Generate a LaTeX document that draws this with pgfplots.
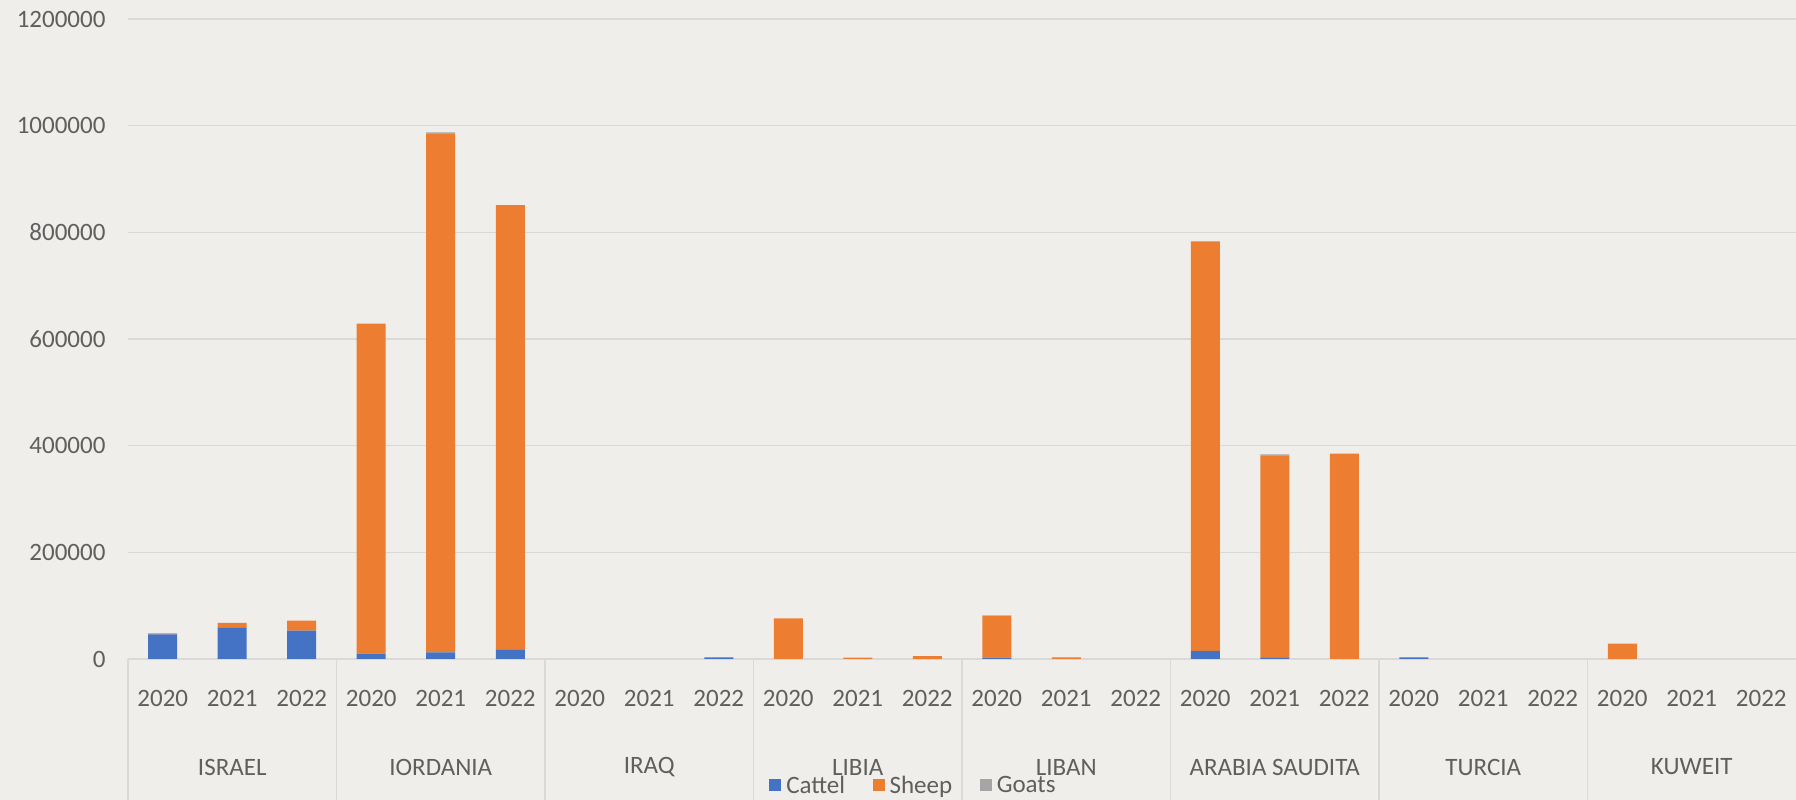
\documentclass[border=0pt]{standalone}
\usepackage{fontspec}
\setmainfont{Carlito}
\usepackage{pgfplots}
\usepackage{pgfplotstable}
\pgfplotsset{compat=1.18}
\definecolor{bgc}{RGB}{239,238,234}
\definecolor{gridc}{RGB}{217,217,217}
\definecolor{txt}{RGB}{95,95,95}
\definecolor{cattle}{RGB}{68,114,196}
\definecolor{sheep}{RGB}{237,125,49}
\definecolor{goats}{RGB}{165,165,165}

\pgfplotstableread{
x cattle sheep goats
0 46000 2000 0
1 58500 9000 0
2 53000 19000 0
3 10000 619000 0
4 12500 973000 2000
5 17000 834000 0
6 0 0 0
7 0 0 0
8 3000 0 0
9 0 76000 0
10 0 2500 0
11 0 5500 0
12 2500 78000 1500
13 0 3000 0
14 0 0 0
15 15000 768000 0
16 3000 379000 1500
17 0 385000 0
18 3000 0 0
19 0 0 0
20 0 0 0
21 0 29000 0
22 0 0 0
23 0 0 0
}\data

\begin{document}
\begin{tikzpicture}
\useasboundingbox (0,0) rectangle (718.4pt,320pt);
\fill[bgc] (0,0) rectangle (718.4pt,320pt);
\begin{axis}[
  at={(51.2pt,56.4pt)}, anchor=south west,
  scale only axis, width=667.2pt, height=256pt,
  xmin=-0.5, xmax=23.5, ymin=0, ymax=1200000,
  ybar stacked, bar width=11.6pt,
  axis line style={draw=none}, major tick length=0pt, tick style={draw=none},
  scaled y ticks=false,
  ymajorgrids, grid style={gridc, line width=0.5pt},
  ytick={0,200000,400000,600000,800000,1000000,1200000},
  yticklabels={0,200000,400000,600000,800000,1000000,1200000},
  yticklabel style={anchor=east, inner sep=0pt, xshift=-8.8pt, font=\fontsize{10}{12}\selectfont, text=txt},
  xtick={0,...,23},
  xticklabels={2020,2021,2022,2020,2021,2022,2020,2021,2022,2020,2021,2022,2020,2021,2022,2020,2021,2022,2020,2021,2022,2020,2021,2022},
  xticklabel style={anchor=center, inner sep=0pt, yshift=-15.6pt, font=\fontsize{10}{12}\selectfont, text=txt},
  clip=false,
  legend columns=3,
  legend style={at={(0.4718,0)}, anchor=center, yshift=-51pt, draw=none, fill=none,
    font=\fontsize{10}{12}\selectfont, text=txt,
    /tikz/every even column/.append style={column sep=9pt},
    inner sep=0pt},
  legend image code/.code={\fill[#1] (0pt,-2.0pt) rectangle (4.8pt,2.8pt);},
]
\addplot[fill=cattle, draw=none] table[x=x, y=cattle] {\data};
\addplot[fill=sheep, draw=none] table[x=x, y=sheep] {\data};
\addplot[fill=goats, draw=none] table[x=x, y=goats] {\data};
\legend{Cattel,Sheep,Goats}
\pgfplotsinvokeforeach{-0.5,2.5,5.5,8.5,11.5,14.5,17.5,20.5}{
  \draw[gridc, line width=0.6pt] (axis cs:#1,0) -- ([yshift=-56.4pt]axis cs:#1,0);
}
\node[text=txt, font=\fontsize{10}{12}\selectfont] at ([yshift=-43.2pt]axis cs:1,0) {ISRAEL};
\node[text=txt, font=\fontsize{10}{12}\selectfont] at ([yshift=-43.2pt]axis cs:4,0) {IORDANIA};
\node[text=txt, font=\fontsize{10}{12}\selectfont] at ([yshift=-43.2pt]axis cs:7,0) {IRAQ};
\node[text=txt, font=\fontsize{10}{12}\selectfont] at ([yshift=-43.2pt]axis cs:10,0) {LIBIA};
\node[text=txt, font=\fontsize{10}{12}\selectfont] at ([yshift=-43.2pt]axis cs:13,0) {LIBAN};
\node[text=txt, font=\fontsize{10}{12}\selectfont] at ([yshift=-43.2pt]axis cs:16,0) {ARABIA SAUDITA};
\node[text=txt, font=\fontsize{10}{12}\selectfont] at ([yshift=-43.2pt]axis cs:19,0) {TURCIA};
\node[text=txt, font=\fontsize{10}{12}\selectfont] at ([yshift=-43.2pt]axis cs:22,0) {KUWEIT};
\end{axis}
\end{tikzpicture}
\end{document}
